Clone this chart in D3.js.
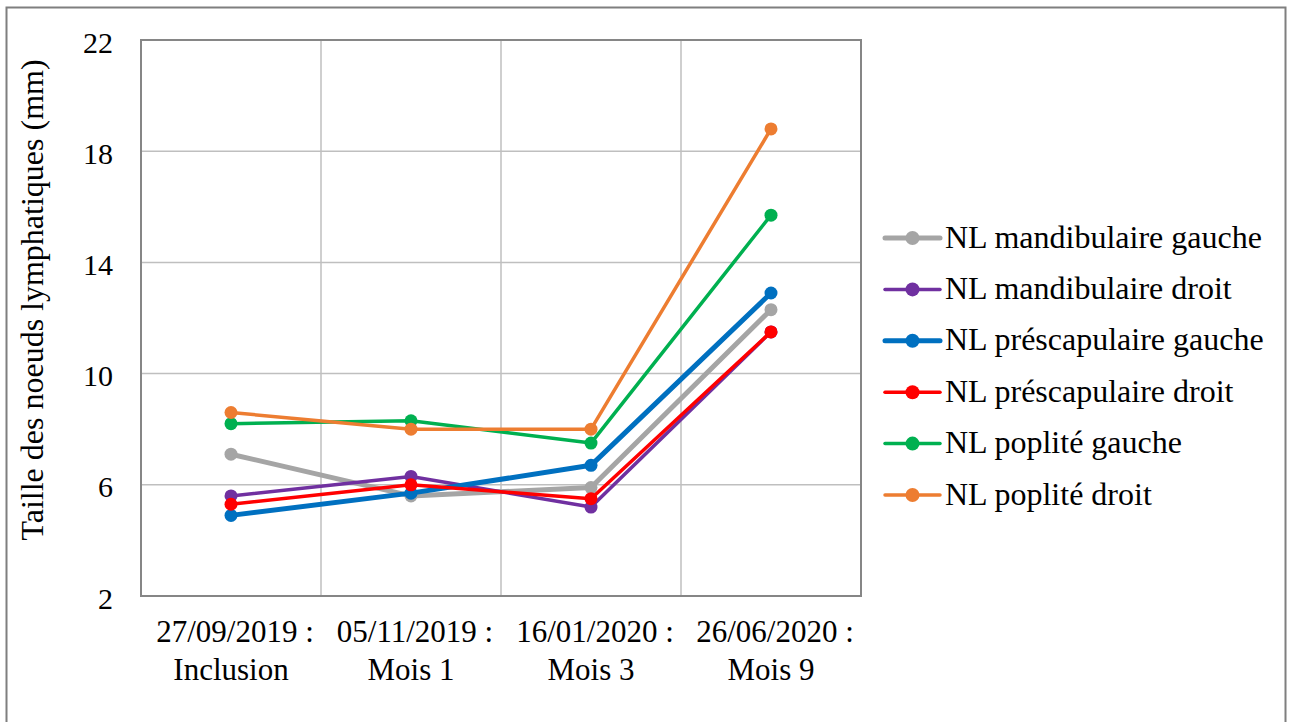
<!doctype html>
<html lang="fr">
<head>
  <meta charset="utf-8" />
  <title>Taille des noeuds lymphatiques</title>
  <script src="https://d3js.org/d3.v7.min.js"></script>
  <style>
    body { margin: 0; background: #fff; }
    svg text { font-family: "Liberation Serif", "Times New Roman", serif; fill: #000; }
  </style>
</head>
<body>
  <div id="chart"></div>
  <script>
    // data
    const dates = ["27/09/2019 :", "05/11/2019 :", "16/01/2020 :", "26/06/2020 :"];
    const stages = ["Inclusion", "Mois 1", "Mois 3", "Mois 9"];
    const yTicks = [2, 6, 10, 14, 18, 22];

    const mandibulaireGauche = [7.1, 5.6, 5.9, 12.3];
    const mandibulaireDroit = [5.6, 6.3, 5.2, 11.5];
    const prescapulaireGauche = [4.9, 5.7, 6.7, 12.9];
    const prescapulaireDroit = [5.3, 6.0, 5.5, 11.5];
    const popliteGauche = [8.2, 8.3, 7.5, 15.7];
    const popliteDroit = [8.6, 8.0, 8.0, 18.8];

    const series = [
      { name: "NL mandibulaire gauche", values: mandibulaireGauche, color: "#a5a5a5", w: 5 },
      { name: "NL mandibulaire droit", values: mandibulaireDroit, color: "#7030a0", w: 3.5 },
      { name: "NL préscapulaire gauche", values: prescapulaireGauche, color: "#0070c0", w: 5 },
      { name: "NL préscapulaire droit", values: prescapulaireDroit, color: "#ff0000", w: 3.5 },
      { name: "NL poplité gauche", values: popliteGauche, color: "#00b050", w: 3.5 },
      { name: "NL poplité droit", values: popliteDroit, color: "#ed7d31", w: 3.5 }
    ];

    const width = 1289, height = 722;
    const plot = { left: 141, top: 40, right: 861, bottom: 596 };

    const svg = d3.select("#chart").append("svg")
      .attr("width", width)
      .attr("height", height);

    // outer frame
    svg.append("rect")
      .attr("x", 6.5).attr("y", 7.5)
      .attr("width", 1279).attr("height", 740)
      .attr("fill", "none")
      .attr("stroke", "#7f7f7f")
      .attr("stroke-width", 2);

    const x = d3.scaleBand()
      .domain(d3.range(dates.length))
      .range([plot.left, plot.right]);

    const y = d3.scaleLinear()
      .domain([2, 22])
      .range([plot.bottom, plot.top]);

    // horizontal grid
    svg.append("g")
      .selectAll("line")
      .data(yTicks)
      .join("line")
      .attr("x1", plot.left).attr("x2", plot.right)
      .attr("y1", d => y(d)).attr("y2", d => y(d))
      .attr("stroke", "#bfbfbf")
      .attr("stroke-width", 1.5);

    // vertical grid between categories
    svg.append("g")
      .selectAll("line")
      .data(d3.range(1, dates.length))
      .join("line")
      .attr("x1", d => x(d)).attr("x2", d => x(d))
      .attr("y1", plot.top).attr("y2", plot.bottom)
      .attr("stroke", "#bfbfbf")
      .attr("stroke-width", 1.5);

    // plot border
    svg.append("rect")
      .attr("x", plot.left).attr("y", plot.top)
      .attr("width", plot.right - plot.left)
      .attr("height", plot.bottom - plot.top)
      .attr("fill", "none")
      .attr("stroke", "#868686")
      .attr("stroke-width", 2);

    // y axis labels
    const yAxis = svg.append("g")
      .attr("transform", `translate(${plot.left},0)`)
      .call(d3.axisLeft(y).tickValues(yTicks).tickSize(0).tickPadding(28));
    yAxis.attr("font-family", null).attr("font-size", 30);
    yAxis.select(".domain").remove();
    yAxis.selectAll("text")
      .attr("dy", "0.4em");

    // x axis labels (two lines)
    const xLabels = svg.append("g")
      .selectAll("g")
      .data(d3.range(dates.length))
      .join("g")
      .attr("transform", d => `translate(${x(d) + x.bandwidth() / 2},0)`);
    xLabels.append("text")
      .attr("text-anchor", "middle")
      .attr("x", 4)
      .attr("y", 642)
      .attr("font-size", 31)
      .text(d => dates[d]);
    xLabels.append("text")
      .attr("text-anchor", "middle")
      .attr("y", 680)
      .attr("font-size", 31)
      .text(d => stages[d]);

    // y axis title
    svg.append("text")
      .attr("transform", `translate(43, 300) rotate(-90)`)
      .attr("text-anchor", "middle")
      .attr("font-size", 32)
      .text("Taille des noeuds lymphatiques (mm)");

    const line = d3.line()
      .x((d, i) => x(i) + x.bandwidth() / 2)
      .y(d => y(d));

    const sg = svg.append("g")
      .selectAll("g")
      .data(series)
      .join("g");

    sg.append("path")
      .attr("d", d => line(d.values))
      .attr("fill", "none")
      .attr("stroke", d => d.color)
      .attr("stroke-width", d => d.w)
      .attr("stroke-linejoin", "round");

    sg.selectAll("circle")
      .data(d => d.values.map(v => ({ v, color: d.color })))
      .join("circle")
      .attr("cx", (d, i) => x(i) + x.bandwidth() / 2)
      .attr("cy", d => y(d.v))
      .attr("r", 6.5)
      .attr("fill", d => d.color);

    // legend
    const legendRow = 51.4;
    const legend = svg.append("g")
      .attr("transform", "translate(885, 238)");
    const item = legend.selectAll("g")
      .data(series)
      .join("g")
      .attr("transform", (d, i) => `translate(0, ${i * legendRow})`);
    item.append("line")
      .attr("x1", 0).attr("x2", 55)
      .attr("stroke", d => d.color)
      .attr("stroke-width", d => d.w)
      .attr("stroke-linecap", "round");
    item.append("circle")
      .attr("cx", 27.5).attr("r", 7)
      .attr("fill", d => d.color);
    item.append("text")
      .attr("x", 60)
      .attr("dy", "0.3em")
      .attr("font-size", 32)
      .text(d => d.name);
  </script>
</body>
</html>
